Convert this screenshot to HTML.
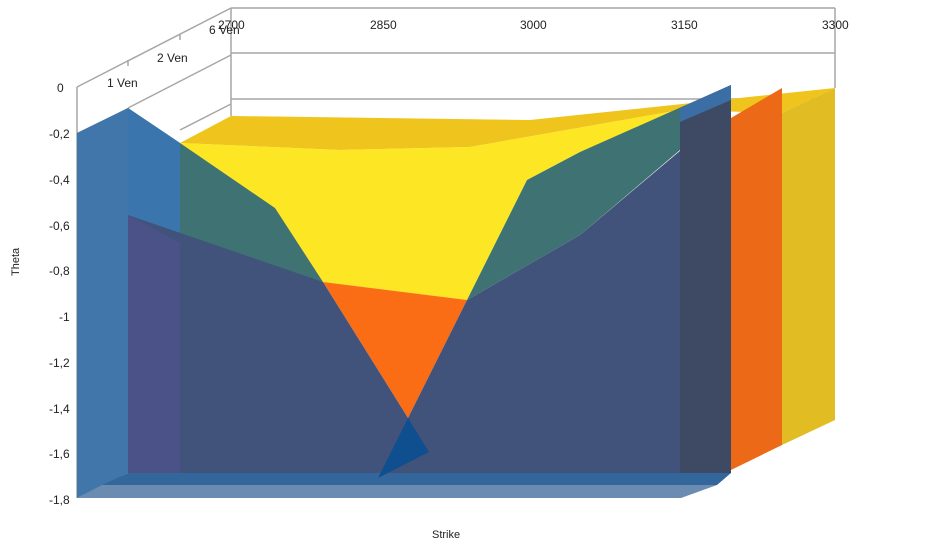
<!DOCTYPE html>
<html><head><meta charset="utf-8"><style>
html,body{margin:0;padding:0;background:#fff;}
svg{display:block;}
text{font-family:"Liberation Sans",sans-serif;font-size:12px;fill:#222;}
</style></head><body>
<svg width="945" height="544" viewBox="0 0 945 544" xmlns="http://www.w3.org/2000/svg">
<g stroke="#a6a6a6" stroke-width="1.5" fill="none">
<line x1="231" y1="8" x2="835" y2="8"/>
<line x1="231" y1="53" x2="835" y2="53"/>
<line x1="231" y1="99" x2="835" y2="99"/>
<line x1="231" y1="8" x2="231" y2="116"/>
<line x1="835" y1="8" x2="835" y2="88"/>
<line x1="77" y1="87" x2="231" y2="8"/>
<line x1="128" y1="108" x2="231" y2="55"/>
<line x1="180" y1="130" x2="231" y2="104"/>
<line x1="77" y1="87" x2="77" y2="498"/>
<line x1="128" y1="60" x2="128" y2="66"/>
<line x1="180" y1="34" x2="180" y2="40"/>
</g>
<polygon points="180,143 231,116 530,120 835,88 782,113 680,110 470,147 340,150" fill="#efc41c"/>
<polygon points="180,143 340,150 470,147 680,110 580,152 527,180 467,300 323,282" fill="#fde725"/>
<polygon points="782,113 835,88 835,420 782,445" fill="#e1bc22"/>
<polygon points="731,118 782,88 782,445 731,470" fill="#ec6a17"/>
<polygon points="323,282 467,300 408,418" fill="#fb6d15"/>
<polygon points="128,108 180,143 275,208 323,282 180,243 128,215" fill="#3f7373"/>
<polygon points="467,300 527,180 580,152 731,85 731,100 680,150 580,235" fill="#3f7373"/>
<polygon points="77,133 128,108 180,143 180,243 128,215" fill="#3a76ad"/>
<polygon points="128,215 323,282 408,418 467,300 580,235 681,150 681,473 128,473" fill="#41537a"/>
<polygon points="680,108 731,85 731,473 680,498" fill="#3e4a64"/>
<polygon points="680,108 731,85 731,100 680,122" fill="#3a6ea5"/>
<polygon points="128,215 180,243 180,473 128,473" fill="#4a5288"/>
<polygon points="77,133 128,108 128,473 77,498" fill="#4176ab"/>
<polygon points="128,473 731,473 717,485 102,485" fill="#33679c"/>
<polygon points="102,485 717,485 681,498 77,498" fill="#6b8bb0"/>
<polygon points="408,418 429,452 378,478" fill="#0f4f8f"/>
<text x="57" y="92">0</text>
<text x="49" y="138">-0,2</text>
<text x="49" y="184">-0,4</text>
<text x="49" y="230">-0,6</text>
<text x="49" y="275">-0,8</text>
<text x="59" y="321">-1</text>
<text x="49" y="367">-1,2</text>
<text x="49" y="413">-1,4</text>
<text x="49" y="458">-1,6</text>
<text x="49" y="504">-1,8</text>
<text x="107" y="87">1 Ven</text>
<text x="157" y="62">2 Ven</text>
<text x="209" y="34">6 Ven</text>
<text x="218" y="29">2700</text>
<text x="370" y="29">2850</text>
<text x="520" y="29">3000</text>
<text x="671" y="29">3150</text>
<text x="822" y="29">3300</text>
<text x="432" y="538" style="font-size:11px">Strike</text>
<text transform="translate(19,276) rotate(-90)" style="font-size:11px">Theta</text>
</svg>
</body></html>
